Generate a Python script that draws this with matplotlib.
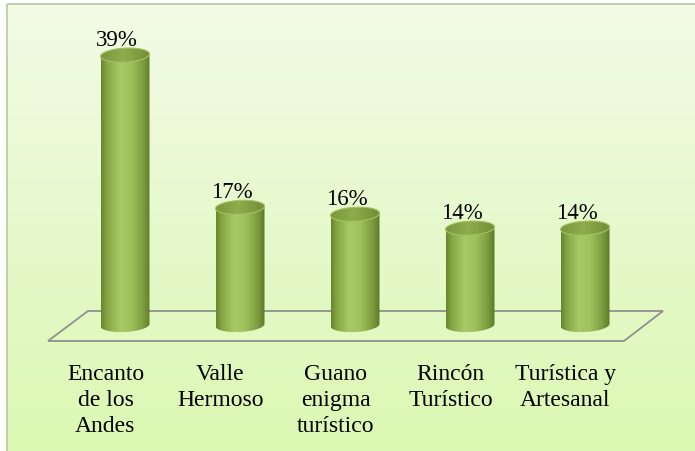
import numpy as np
import matplotlib
matplotlib.use('Agg')
import matplotlib.pyplot as plt
from matplotlib.patches import Polygon, Rectangle
from matplotlib.colors import LinearSegmentedColormap

categories = ['Encanto\nde los\nAndes', 'Valle\nHermoso', 'Guano\nenigma\nturístico',
              'Rincón\nTurístico', 'Turística y\nArtesanal']
values = [39, 17, 16, 14, 14]
labels = ['39%', '17%', '16%', '14%', '14%']

plt.rcParams['font.family'] = ['Liberation Serif', 'DejaVu Serif']

W, H = 695, 452
fig = plt.figure(figsize=(W / 100, H / 100), dpi=100)

# background panel with vertical gradient
bg = fig.add_axes([0, 0, 1, 1])
bg.set_xlim(0, W)
bg.set_ylim(H, 0)
bg.axis('off')
grad = np.linspace(0, 1, 256).reshape(-1, 1)
bg_cmap = LinearSegmentedColormap.from_list('bg', ['#f3fbe6', '#e6f9cc', '#dcf8b2'])
bg.imshow(grad, cmap=bg_cmap, extent=[7, W + 5, H + 5, 5], aspect='auto', zorder=0)
bg.add_patch(Rectangle((7, 5), W, H, fill=False, ec='#b4cc9c', lw=1.2, zorder=1))

# main axes: x = category index, y = percent
px_per_x = 115.0
px_per_y = 6.92
x0_px, y0_px = 125.0, 326.0
ax = fig.add_axes([0, 0, 1, 1])
ax.patch.set_alpha(0)
ax.set_xlim(-x0_px / px_per_x, (W - x0_px) / px_per_x)
ax.set_ylim((y0_px - H) / px_per_y, y0_px / px_per_y)
ax.axis('off')

def px(xp, yp):
    return (xp - x0_px) / px_per_x, (y0_px - yp) / px_per_y

# floor plane
floor = [px(88, 312), px(663, 312), px(624, 342), px(48, 342)]
ax.add_patch(Polygon(floor, closed=True, fill=False, ec='#8f8f8f', lw=1.3, zorder=1))

body_cmap = LinearSegmentedColormap.from_list(
    'body', [(0, '#67852d'), (0.12, '#86a645'), (0.38, '#a8ca66'),
             (0.6, '#9fc15c'), (0.85, '#7d9c3f'), (1, '#5c7828')])
top_cmap = LinearSegmentedColormap.from_list(
    'top', [(0, '#7a973c'), (0.45, '#8fad4c'), (1, '#728c36')])

half_w = 24.5 / px_per_x
half_h = 7.0 / px_per_y
tilt = 1.2 / px_per_y
t = np.linspace(0, 2 * np.pi, 120)

def ellipse(xc, yc):
    return np.column_stack([xc + half_w * np.cos(t),
                            yc + half_h * np.sin(t) + tilt * np.cos(t)])

hgrad = np.linspace(0, 1, 256).reshape(1, -1)
for i, v in enumerate(values):
    # body: side walls plus lower half of the base ellipse
    tb = np.linspace(np.pi, 2 * np.pi, 60)
    bottom = np.column_stack([i + half_w * np.cos(tb),
                              half_h * np.sin(tb) + tilt * np.cos(tb)])
    body_pts = np.vstack([[i - half_w, v - tilt], bottom, [i + half_w, v + tilt]])
    body = Polygon(body_pts, closed=True, fc='none', ec='none')
    ax.add_patch(body)
    im = ax.imshow(hgrad, cmap=body_cmap, extent=[i - half_w, i + half_w, -half_h - 1, v + 1],
                   aspect='auto', zorder=2)
    im.set_clip_path(body)

    top = Polygon(ellipse(i, v), closed=True, fc='none', ec='none')
    ax.add_patch(top)
    im2 = ax.imshow(hgrad, cmap=top_cmap, extent=[i - half_w, i + half_w, v - half_h - 1, v + half_h + 1],
                    aspect='auto', zorder=3)
    im2.set_clip_path(top)
    ax.add_patch(Polygon(ellipse(i, v), closed=True, fill=False, ec='#a6c263', lw=0.8, zorder=4))

    ax.text(i - 0.07, v + 1.45, labels[i], ha='center', va='baseline', fontsize=16.5, zorder=5)

    ax.text(i - 0.17, -5.5, categories[i], ha='center', va='top', fontsize=17,
            linespacing=1.3, zorder=5)

fig.savefig('out.png', dpi=100)
